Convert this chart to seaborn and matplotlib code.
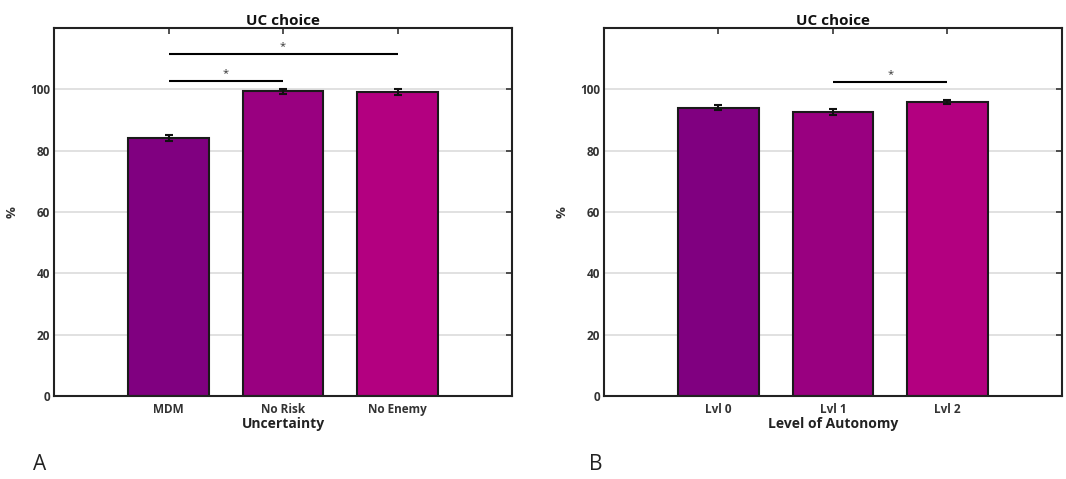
import matplotlib
matplotlib.use("Agg")
import matplotlib.pyplot as plt
import seaborn as sns
import pandas as pd

sns.set_style("white")
plt.rcParams["font.family"] = ["Open Sans", "DejaVu Sans"]

# Panel A: uncertainty conditions
uncertainty_labels = ["MDM", "No Risk", "No Enemy"]
uncertainty_means = [84.2, 99.4, 99.2]
uncertainty_sem = [1.0, 0.9, 0.9]

# Panel B: level of autonomy
autonomy_labels = ["Lvl 0", "Lvl 1", "Lvl 2"]
autonomy_means = [94.1, 92.6, 95.9]
autonomy_sem = [0.9, 1.1, 0.8]

bar_colors = ["#800080", "#990080", "#B30080"]
yticks = [0, 20, 40, 60, 80, 100]

# significance brackets: (first index, second index, height)
uncertainty_sig = [(0, 1, 102.7), (0, 2, 111.4)]
autonomy_sig = [(1, 2, 102.4)]

fig = plt.figure(figsize=(10.66, 4.79), dpi=100)
ax_a = fig.add_axes([0.0507, 0.1733, 0.4296, 0.768])
ax_b = fig.add_axes([0.5666, 0.1733, 0.4296, 0.768])


def draw_panel(ax, labels, means, sem, xlabel, sig):
    df = pd.DataFrame({"cond": labels, "pct": means})
    sns.barplot(data=df, x="cond", y="pct", hue="cond", palette=bar_colors,
                saturation=1, legend=False, width=0.7, edgecolor="#1a1a1a",
                linewidth=1.5, ax=ax, zorder=2)
    ax.errorbar(range(len(labels)), means, yerr=sem, fmt="none",
                ecolor="#111111", elinewidth=1.5, capsize=3, capthick=1.5,
                zorder=3)
    for i, j, h in sig:
        ax.plot([i, j], [h, h], color="black", lw=1.5, zorder=3,
                solid_capstyle="butt")
        ax.text((i + j) / 2, h + 0.8, "*", ha="center", va="bottom",
                fontsize=8, color="#333333")
    ax.set_xlim(-1, 3)
    ax.set_ylim(0, 120)
    ax.set_yticks(yticks)
    ax.yaxis.grid(True, color="#dcdcdc", lw=1.2, zorder=0)
    ax.set_axisbelow(True)
    ax.tick_params(axis="both", direction="in", length=4, width=1.2,
                   colors="#333333", labelsize=8.5)
    ax.tick_params(axis="y", right=True, pad=3)
    ax.tick_params(axis="x", top=True, pad=5)
    for lab in ax.get_xticklabels() + ax.get_yticklabels():
        lab.set_fontweight("bold")
    for sp in ax.spines.values():
        sp.set_color("#222222")
        sp.set_linewidth(1.5)
    ax.set_xlabel(xlabel, fontsize=10, fontweight="bold", color="#222222",
                  labelpad=1)
    ax.set_ylabel("%", fontsize=9.5, fontweight="bold", color="#333333",
                  labelpad=8)
    ax.set_title("UC choice", fontsize=11, fontweight="bold", color="#111111",
                 pad=2)


draw_panel(ax_a, uncertainty_labels, uncertainty_means, uncertainty_sem,
           "Uncertainty", uncertainty_sig)
draw_panel(ax_b, autonomy_labels, autonomy_means, autonomy_sem,
           "Level of Autonomy", autonomy_sig)

fig.text(33 / 1066, 1 - 465 / 479, "A", fontsize=15, ha="left",
         va="center", color="#222222")
fig.text(589 / 1066, 1 - 465 / 479, "B", fontsize=15, ha="left",
         va="center", color="#222222")

fig.savefig("out.png", dpi=100)
